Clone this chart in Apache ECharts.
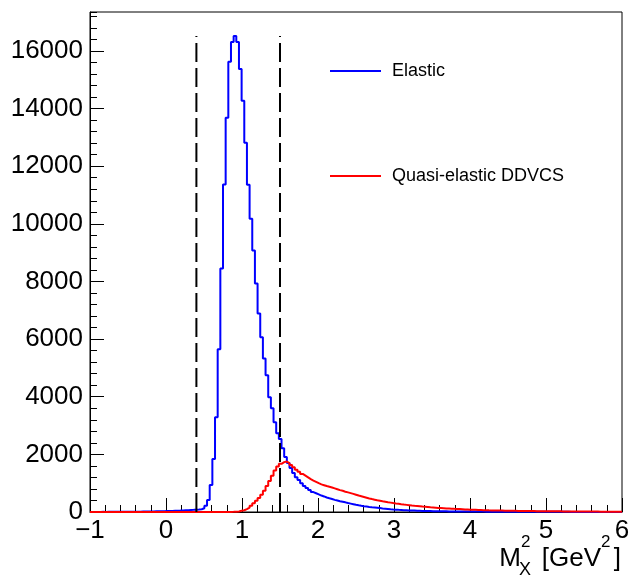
<!DOCTYPE html>
<html><head><meta charset="utf-8">
<script src="https://cdn.jsdelivr.net/npm/echarts@6/dist/echarts.min.js"></script>
<style>html,body{margin:0;padding:0;background:#fff}#c{width:640px;height:586px}</style>
</head><body><div id="c"></div>
<script>
// Histogram: 200 bins from -1 to 6 (width 0.035)
const binLow = -1;
const binWidth = 0.035;
const xMin = -1, xMax = 6;
const yMax = 17350;

const elastic = [
  3,2,4,3,5,4,6,5,7,6,
  8,7,9,10,9,11,12,11,13,14,
  15,17,18,20,22,24,27,29,32,35,
  38,42,46,50,55,60,64,70,75,82,
  88,95,128,220,415,935,1835,3290,5645,8450,
  11360,13680,15620,16311,16519,16311,15375,14268,12813,11358,
  10180,9073,7930,6890,6060,5330,4745,3980,3600,3115,
  2735,2530,2215,1905,1700,1525,1350,1210,1110,1000,
  900,830,760,690,650,610,570,540,505,475,
  450,420,400,375,355,335,310,290,270,250,
  232,215,200,188,176,165,155,145,135,124,
  115,106,96,88,82,75,70,64,60,55,
  51,48,45,42,39,36,34,32,30,28,
  26,25,23,22,21,20,19,19,18,18,
  17,17,16,16,15,15,14,14,13,13,
  12,12,12,11,11,11,10,10,10,9,
  9,9,8,8,8,8,7,7,7,7,
  6,6,6,6,6,5,5,5,5,5,
  4,4,4,4,4,4,3,3,3,3,
  3,3,3,2,2,2,2,2,2,2
];

const quasi = [
  0,0,0,0,0,0,0,0,0,0,
  0,0,0,0,0,0,0,0,0,0,
  0,0,0,0,0,0,0,0,0,0,
  0,0,0,0,0,0,0,0,0,0,
  0,0,0,0,0,0,0,0,0,0,
  1,2,3,5,10,20,40,60,100,150,
  220,300,390,490,600,740,900,1080,1260,1440,
  1580,1670,1730,1750,1700,1630,1550,1470,1395,1320,
  1260,1200,1140,1090,1045,1000,960,930,900,875,
  850,820,790,760,735,705,680,655,630,600,
  570,545,520,495,470,448,428,408,390,372,
  356,340,325,310,296,283,270,258,247,236,
  225,215,206,197,188,180,172,164,157,150,
  143,137,131,125,120,115,110,106,102,98,
  90,86,82,78,74,70,67,64,61,58,
  56,54,52,50,48,46,44,43,41,40,
  38,37,35,34,33,32,31,30,29,28,
  27,26,25,24,23,22,22,21,20,20,
  19,18,18,17,17,16,16,15,15,14,
  14,13,13,12,12,12,11,11,10,10
];

const cutPositions = [0.4, 1.5];
const cutHeight = 16519;
const seriesNames = ['Elastic', 'Quasi-elastic DDVCS'];
const seriesColors = ['#0000ff', '#ff0000'];

function toSteps(vals) {
  const pts = vals.map((v, i) => [binLow + i * binWidth, v]);
  pts.push([xMax, vals[vals.length - 1]]);
  return pts;
}

const FONT = "'Liberation Sans', Arial, Helvetica, sans-serif";
const chart = echarts.init(document.getElementById('c'), null, {renderer: 'canvas'});

const series = [
  {name: seriesNames[0], type: 'line', step: 'end', data: toSteps(elastic), symbol: 'none',
   color: seriesColors[0], lineStyle: {color: seriesColors[0], width: 2}, animation: false, z: 3},
  {name: seriesNames[1], type: 'line', step: 'end', data: toSteps(quasi), symbol: 'none',
   color: seriesColors[1], lineStyle: {color: seriesColors[1], width: 2}, animation: false, z: 4}
];
cutPositions.forEach(c => {
  series.push({type: 'line', data: [[c, 0], [c, cutHeight]], symbol: 'none', silent: true,
    lineStyle: {color: '#000', width: 2, type: [19, 6]}, animation: false, z: 5});
});

chart.setOption({
  animation: false,
  backgroundColor: '#fff',
  grid: {left: 90, right: 18, top: 12, bottom: 74, show: true, borderColor: '#000', borderWidth: 1, containLabel: false},
  legend: {
    orient: 'vertical', left: 325, top: 57, itemWidth: 51, itemHeight: 2, itemGap: 87,
    icon: 'rect', data: seriesNames,
    textStyle: {fontSize: 18, fontFamily: FONT, color: '#000', padding: [0, 0, 0, 6]}
  },
  xAxis: {
    type: 'value', min: xMin, max: xMax, interval: 1,
    axisLine: {show: true, onZero: false, lineStyle: {color: '#000', width: 1}},
    axisTick: {show: true, inside: true, length: 14, lineStyle: {color: '#000', width: 1}},
    minorTick: {show: true, splitNumber: 5, length: 7, lineStyle: {color: '#000', width: 1}},
    splitLine: {show: false},
    axisLabel: {fontSize: 26, fontFamily: FONT, color: '#000', margin: 6,
      formatter: v => (v < 0 ? '\u2212' + Math.abs(v) : String(v))}
  },
  yAxis: [
    {
      type: 'value', min: 0, max: yMax, interval: 2000, position: 'left',
      axisLine: {show: true, onZero: false, lineStyle: {color: '#000', width: 1}},
      axisTick: {show: true, inside: true, length: 14, lineStyle: {color: '#000', width: 1}},
      splitLine: {show: false},
      axisLabel: {fontSize: 26, fontFamily: FONT, color: '#000', margin: 7, showMaxLabel: false,
        formatter: v => String(v)}
    },
    {
      type: 'value', min: 0, max: yMax, interval: 400, position: 'left',
      axisLine: {show: false, onZero: false},
      axisTick: {show: true, inside: true, length: 7, lineStyle: {color: '#000', width: 1}},
      splitLine: {show: false},
      axisLabel: {show: false}
    }
  ],
  series: series,
  graphic: [
    {type: 'text', x: 521, y: 559, style: {text: 'M', font: '26px ' + FONT, fill: '#000', align: 'right', verticalAlign: 'middle'}},
    {type: 'text', x: 521, y: 542, style: {text: '2', font: '17px ' + FONT, fill: '#000', align: 'left', verticalAlign: 'middle'}},
    {type: 'text', x: 519, y: 570, style: {text: 'X', font: '18px ' + FONT, fill: '#000', align: 'left', verticalAlign: 'middle'}},
    {type: 'text', x: 601, y: 559, style: {text: '[GeV', font: '26px ' + FONT, fill: '#000', align: 'right', verticalAlign: 'middle'}},
    {type: 'text', x: 601, y: 542, style: {text: '2', font: '17px ' + FONT, fill: '#000', align: 'left', verticalAlign: 'middle'}},
    {type: 'text', x: 621, y: 559, style: {text: ']', font: '26px ' + FONT, fill: '#000', align: 'right', verticalAlign: 'middle'}}
  ]
});
</script>
</body></html>
